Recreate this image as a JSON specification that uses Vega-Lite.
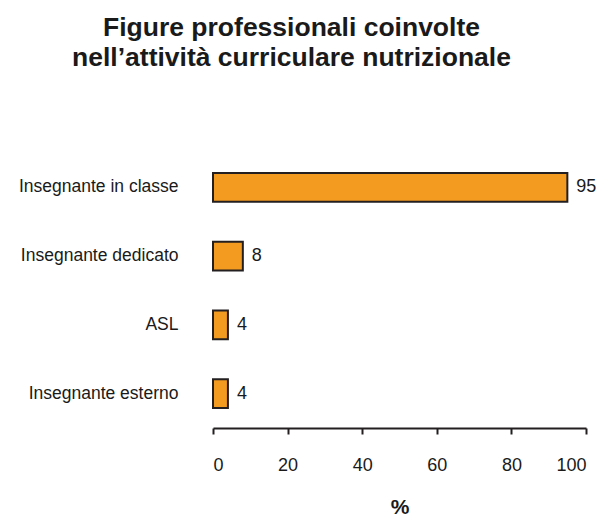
{
  "$schema": "https://vega.github.io/schema/vega-lite/v6.json",
  "autosize": "none",
  "width": 373,
  "height": 275,
  "padding": {"left": 213, "top": 153, "right": 19, "bottom": 92},
  "background": "white",
  "title": {
    "text": ["Figure professionali coinvolte", "nell’attività curriculare nutrizionale"],
    "font": "Liberation Sans",
    "fontSize": 26.5,
    "fontWeight": "bold",
    "color": "#1a1a1a",
    "anchor": "middle",
    "dx": -108,
    "lineHeight": 30,
    "offset": 82
  },
  "data": {
    "values": [
      {"figura": "Insegnante in classe", "pct": 95},
      {"figura": "Insegnante dedicato", "pct": 8},
      {"figura": "ASL", "pct": 4},
      {"figura": "Insegnante esterno", "pct": 4}
    ]
  },
  "encoding": {
    "y": {
      "field": "figura",
      "type": "nominal",
      "sort": null,
      "scale": {"paddingInner": 0.58, "paddingOuter": 0.29},
      "axis": {
        "title": null,
        "domain": false,
        "ticks": false,
        "labelPadding": 35,
        "labelFont": "Liberation Sans",
        "labelFontSize": 17.5,
        "labelColor": "#1a1a1a"
      }
    },
    "x": {
      "field": "pct",
      "type": "quantitative",
      "scale": {"domain": [0, 100], "nice": false},
      "axis": {
        "title": "%",
        "titleFont": "Liberation Sans",
        "titleFontSize": 21,
        "titleFontWeight": "bold",
        "titleColor": "#1a1a1a",
        "titlePadding": 22,
        "values": [0, 20, 40, 60, 80, 100],
        "grid": false,
        "domainColor": "#231F20",
        "domainWidth": 2,
        "tickColor": "#231F20",
        "tickWidth": 2,
        "tickSize": 6,
        "labelPadding": 22,
        "labelFont": "Liberation Sans",
        "labelFontSize": 18,
        "labelColor": "#1a1a1a"
      }
    }
  },
  "layer": [
    {
      "mark": {"type": "bar", "color": "#F39A20", "stroke": "#231F20", "strokeWidth": 2}
    },
    {
      "mark": {"type": "text", "align": "left", "dx": 9, "font": "Liberation Sans", "fontSize": 18, "color": "#1a1a1a"},
      "encoding": {"text": {"field": "pct", "type": "quantitative"}}
    }
  ],
  "config": {"view": {"stroke": null}}
}
